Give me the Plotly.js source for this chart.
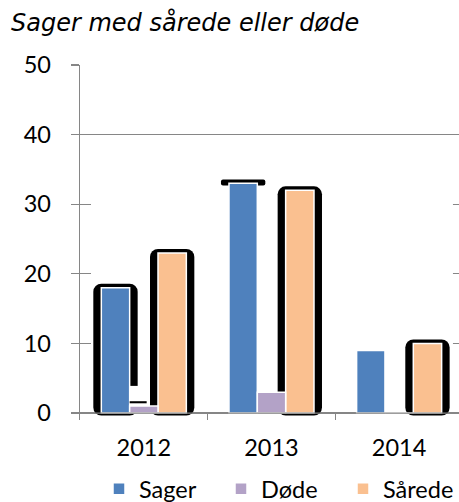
<!DOCTYPE html>
<html><head><meta charset="utf-8">
<script src="https://cdn.plot.ly/plotly-3.0.1.min.js"></script>
<style>html,body{margin:0;padding:0;background:#fff;overflow:hidden}#chart{width:459px;height:502px}</style>
</head><body><div id="chart"></div>
<script>
// ---- data ----
const years = ['2012', '2013', '2014'];
const sager = [18, 33, 9];
const dode = [1, 3, 0];
const saarede = [23, 32, 10];
const yTicks = [0, 10, 20, 30, 40, 50];
// black "shadow" effect seen behind some bars
const sagerShadow = ['full', 'cap', 'none'];
const dodeShadow = ['line', 'none', 'none'];
const saaredeShadow = ['full', 'full', 'full'];

// ---- styling / geometry helpers ----
const colors = {sager: '#4F81BD', dode: '#B3A2C7', saarede: '#FAC090'};
const catPx = 127.67;
const bw = 0.222;
const ext = 8 / catPx;
const offS = -1.5 * bw, offD = -0.5 * bw, offR = 0.5 * bw;
const topExt = 0.57, below = -0.36;

function sel(vals, styles, st, f) { return vals.map((v, i) => styles[i] === st ? f(v) : null); }
function sameBase(vals, b) { return vals.map(() => b); }

const helper = {type: 'bar', x: years, showlegend: false, hoverinfo: 'skip'};
const blackShadow = (vals, styles, off) => Object.assign({}, helper, {
  y: sel(vals, styles, 'full', v => v + topExt - below), base: sameBase(vals, below),
  offset: off - ext, width: bw + 2 * ext, marker: {color: '#000', cornerradius: 8, line: {width: 0}}
});
const capShadow = (vals, styles, off) => Object.assign({}, helper, {
  y: sel(vals, styles, 'cap', v => 0.55 + 0.3), base: vals.map(v => v - 0.3),
  offset: off - ext, width: bw + 2 * ext, marker: {color: '#000', cornerradius: 6, line: {width: 0}}
});
const realBar = (name, vals, off, color, rank) => ({
  type: 'bar', name: name, x: years, y: vals, offset: off, width: bw, legendrank: rank,
  marker: {color: color, line: {color: '#fff', width: 1.5}}, hoverinfo: 'skip'
});

const traces = [
  blackShadow(sager, sagerShadow, offS),
  capShadow(sager, sagerShadow, offS),
  realBar('Sager', sager, offS, colors.sager, 1),
  Object.assign({}, helper, {y: dode.map(v => v + 2.9), base: sameBase(dode, 0), offset: offD, width: bw,
    marker: {color: '#fff', line: {width: 0}}}),
  Object.assign({}, helper, {y: sel(dode, dodeShadow, 'line', v => 0.3), base: dode.map(v => v + 0.4),
    offset: offD, width: bw * 0.6, marker: {color: '#000', line: {width: 0}}}),
  blackShadow(saarede, saaredeShadow, offR),
  realBar('Sårede', saarede, offR, colors.saarede, 3),
  realBar('Døde', dode, offD, colors.dode, 2)
];

const grey = '#868686';
const layout = {
  width: 459, height: 502,
  margin: {l: 80, r: 0, t: 65, b: 82, pad: 0},
  barmode: 'overlay',
  paper_bgcolor: '#fff', plot_bgcolor: '#fff',
  font: {family: 'Lato, sans-serif', size: 23, color: '#000'},
  title: {text: 'Sager med sårede eller døde',
    font: {family: 'DejaVu Sans', size: 24, color: '#000', style: 'italic'},
    x: 11 / 459, xanchor: 'left', xref: 'container', y: 1 - 23 / 502, yanchor: 'middle', yref: 'container'},
  xaxis: {type: 'category', range: [-0.5, 2.469], tickson: 'boundaries', ticks: 'inside', ticklen: 7,
    tickwidth: 1.3, tickcolor: grey, showgrid: false, showline: false, zeroline: false,
    ticklabelstandoff: 11, tickfont: {size: 23.5}, fixedrange: true},
  yaxis: {range: [-1.0, 50], tickvals: yTicks, ticks: 'outside', ticklen: 8, tickwidth: 1.3, tickcolor: grey,
    showgrid: true, gridcolor: grey, gridwidth: 1.3, showline: true, linecolor: grey, linewidth: 1.3,
    zeroline: false, ticklabelstandoff: 15, tickfont: {size: 23.5}, fixedrange: true},
  shapes: [
    {type: 'rect', layer: 'between', xref: 'x', yref: 'y', x0: -0.5 + 11 / catPx, x1: -0.5 + 373 / catPx,
      y0: 2, y1: 35, fillcolor: '#fff', line: {width: 0}},
    {type: 'line', layer: 'above', xref: 'paper', yref: 'y', x0: 0, x1: 1, y0: 0, y1: 0,
      line: {color: grey, width: 1.3}}
  ],
  legend: {orientation: 'h', x: 99 / 459, xref: 'container', xanchor: 'left', y: 1 - 467 / 502, yref: 'container',
    yanchor: 'top', entrywidth: 77, font: {size: 23.5}, traceorder: 'normal', itemclick: false, itemdoubleclick: false},
  hovermode: false
};

Plotly.newPlot('chart', traces, layout, {displayModeBar: false, staticPlot: true});
</script>
</body></html>
